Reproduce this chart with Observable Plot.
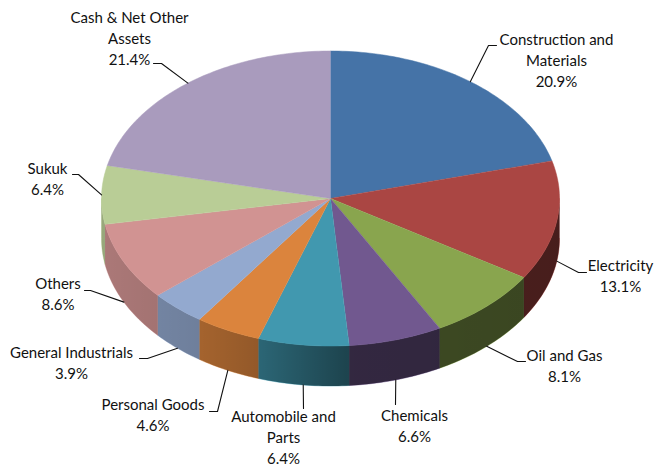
<!DOCTYPE html>
<html>
<head>
<meta charset="utf-8">
<style>
  html, body { margin: 0; padding: 0; background: #fff; }
  svg { display: block; }
</style>
<script src="https://cdn.jsdelivr.net/npm/d3@7"></script>
<script src="https://cdn.jsdelivr.net/npm/@observablehq/plot@0.6"></script>
</head>
<body>
<script>
// Sector allocation, clockwise from twelve o'clock
const categories = [
  "Construction and\nMaterials", "Electricity", "Oil and Gas", "Chemicals",
  "Automobile and\nParts", "Personal Goods", "General Industrials", "Others",
  "Sukuk", "Cash & Net Other\nAssets"
];
const shares = [20.9, 13.1, 8.1, 6.6, 6.4, 4.6, 3.9, 8.6, 6.4, 21.4];
const colours = [
  "#4573a7", "#aa4643", "#89a54e", "#71588f", "#4198af",
  "#db843d", "#93a9cf", "#d19392", "#b9cd96", "#a99bbd"
];

// Tilted disc: centre, radii and wall height
const disc = {cx: 330, cy: 198, rx: 229, ry: 147.5, depth: 40};

// Label placement per slice: block centre and leader bend points
const labelAt = [
  {x: 556, y: 58.5, bend: [[488, 45], [496, 45]]},
  {x: 620, y: 274.5, bend: [[578, 272], [586, 272]]},
  {x: 564, y: 364, bend: [[517, 361], [525, 361]]},
  {x: 414, y: 424, bend: [[395, 404]]},
  {x: 283, y: 435.5, bend: [[303, 408]]},
  {x: 152.5, y: 413, bend: [[217, 411], [209, 411]]},
  {x: 71, y: 361.5, bend: [[147, 358], [139, 358]]},
  {x: 57.5, y: 292.5, bend: [[90, 290], [84, 290]]},
  {x: 47, y: 177, bend: [[78, 174], [72, 174]]},
  {x: 129, y: 36.5, bend: [[161, 63], [153, 63]]}
];

const total = d3.sum(shares);
let running = 0;
const slices = shares.map((share, i) => {
  const start = running / total * 360;
  running += share;
  return {category: categories[i], share, start, end: running / total * 360};
});

const rim = (deg, drop = 0) => {
  const a = deg * Math.PI / 180;
  return {x: disc.cx + disc.rx * Math.sin(a), y: disc.cy - disc.ry * Math.cos(a) + drop};
};
const arc = (a0, a1, drop = 0) => {
  const n = Math.max(2, Math.ceil(Math.abs(a1 - a0)));
  return d3.range(n + 1).map(k => rim(a0 + (a1 - a0) * k / n, drop));
};

// Top face of each slice
const topFaces = slices.flatMap(s =>
  [{x: disc.cx, y: disc.cy}, ...arc(s.start, s.end)].map(p => ({...p, category: s.category}))
);

// Outer wall: only the part of the rim facing the viewer
const wallOf = (a0, a1) => [...arc(a0, a1), ...arc(a1, a0, disc.depth)];
const walls = slices.flatMap(s => {
  const a0 = Math.max(s.start, 90), a1 = Math.min(s.end, 270);
  return a1 > a0 ? wallOf(a0, a1).map(p => ({...p, category: s.category})) : [];
});
const wallShade = wallOf(90, 270);

// Leaders run from the middle of each slice's outer edge
const leaders = slices.flatMap((s, i) => {
  const mid = (s.start + s.end) / 2;
  const front = mid > 90 && mid < 270;
  const from = rim(mid, front ? disc.depth : 0);
  return [[from.x, from.y], ...labelAt[i].bend].map(([x, y]) => ({x, y, i}));
});

const labels = slices.map((s, i) => ({
  x: labelAt[i].x,
  y: labelAt[i].y,
  text: `${s.category}\n${s.share.toFixed(1)}%`
}));

// Horizontal shading laid over the whole wall
const shadeDefs = () => {
  const defs = d3.create("svg:defs");
  const g = defs.append("linearGradient").attr("id", "wallShade");
  [[0, 0.18], [0.216, 0.25], [0.343, 0.33], [0.533, 0.55], [1, 0.58]].forEach(([o, v]) =>
    g.append("stop").attr("offset", o).attr("stop-color", "#000").attr("stop-opacity", v)
  );
  return defs.node();
};

const chart = Plot.plot({
  width: 654,
  height: 466,
  margin: 0,
  x: {domain: [0, 654], range: [0, 654], axis: null},
  y: {domain: [0, 466], range: [0, 466], axis: null},
  color: {domain: categories, range: colours},
  style: {background: "#fff", fontFamily: "Lato, sans-serif"},
  marks: [
    shadeDefs,
    Plot.line(walls, {x: "x", y: "y", z: "category", fill: "category", stroke: "category", strokeWidth: 0.5}),
    Plot.line(wallShade, {x: "x", y: "y", fill: "url(#wallShade)", stroke: "none"}),
    Plot.line(topFaces, {x: "x", y: "y", z: "category", fill: "category", stroke: "category", strokeWidth: 0.5}),
    Plot.line(leaders, {x: "x", y: "y", z: "i", stroke: "#111", strokeWidth: 1.1}),
    Plot.text(labels, {x: "x", y: "y", text: "text", fontSize: 15, lineHeight: 1.39, fill: "#111"})
  ]
});
document.body.appendChild(chart);
</script>
</body>
</html>
